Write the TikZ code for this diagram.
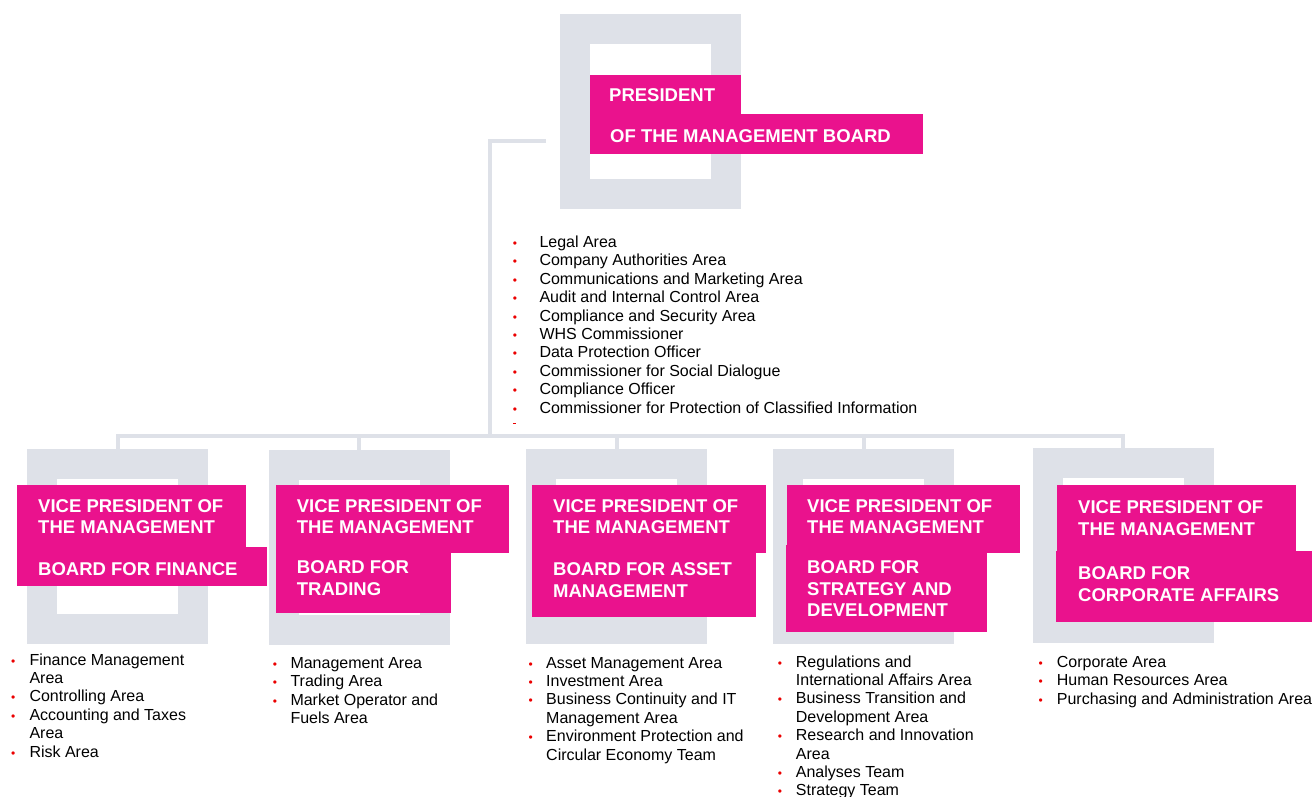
\documentclass[tikz,border=0pt]{standalone}
\usepackage{fontspec}
\setmainfont{Liberation Sans}
\definecolor{framegrey}{RGB}{222,225,232}
\definecolor{boardpink}{RGB}{234,18,141}
\definecolor{bulletred}{RGB}{235,0,0}
\newcommand{\bul}{\leavevmode\textcolor{bulletred}{\fontsize{12}{12}\selectfont •}}

\begin{document}
\begin{tikzpicture}[x=1pt, y=-1pt,
    frame/.style={draw=framegrey, line width=30pt, minimum width=151pt, minimum height=165pt, inner sep=0pt, outer sep=15pt},
    link/.style={draw=framegrey, line width=4pt},
    title/.style={anchor=base west, inner sep=0pt, text=white, font=\bfseries\fontsize{18.5}{21.8}\selectfont},
    list/.style={anchor=base west, inner sep=0pt, font=\fontsize{16}{18.4}\selectfont}]
    \useasboundingbox (0,0) rectangle (1312,796);

    \node (pres) at (650.5,111.5) [frame] {};
    \node (vpfin) at (117.5,546.5) [frame] {};
    \node (vptrd) at (359,547.5) [frame] {};
    \node (vpast) at (616.5,546) [frame] {};
    \node (vpstr) at (863.5,546) [frame] {};
    \node (vpcor) at (1123,545.5) [frame] {};

    \coordinate (stub) at (546,140.5);
    \coordinate (bus) at (490,435.5);
    \draw[link] (stub) -| (bus);
    \draw[link] (vpfin.north) |- (bus) -| (vpcor.north);
    \foreach \n in {vptrd, vpast, vpstr}
    \draw[link] (\n.north) -- (\n.north |- bus);

    \fill[boardpink] (590,75) rectangle (741,114);
    \fill[boardpink] (590,114) rectangle (923,154);
    \fill[boardpink] (17,485) rectangle (246,547);
    \fill[boardpink] (17,547) rectangle (267,586);
    \fill[boardpink] (276,485) rectangle (509,553);
    \fill[boardpink] (276,553) rectangle (451,613);
    \fill[boardpink] (532,485) rectangle (766,553);
    \fill[boardpink] (532,553) rectangle (756,617);
    \fill[boardpink] (787,485) rectangle (1020,553);
    \fill[boardpink] (786,545) rectangle (987,632);
    \fill[boardpink] (1057,485) rectangle (1296,551);
    \fill[boardpink] (1056,551) rectangle (1312,622);

    \node (prestop) at (609,101.7) [title] {PRESIDENT};
    \node (presbot) at (610,142.3) [title] {OF THE MANAGEMENT BOARD};
    \node (fintop) at (38,512) [title] {\begin{tabular}[t]{@{}l@{}}VICE PRESIDENT OF\\THE MANAGEMENT\end{tabular}};
    \node (finbot) at (38,575.7) [title] {BOARD FOR FINANCE};
    \node (trdtop) at (296.7,512) [title] {\begin{tabular}[t]{@{}l@{}}VICE PRESIDENT OF\\THE MANAGEMENT\end{tabular}};
    \node (trdbot) at (296.7,573.3) [title] {\begin{tabular}[t]{@{}l@{}}BOARD FOR\\TRADING\end{tabular}};
    \node (asttop) at (553,512) [title] {\begin{tabular}[t]{@{}l@{}}VICE PRESIDENT OF\\THE MANAGEMENT\end{tabular}};
    \node (astbot) at (553,575.7) [title] {\begin{tabular}[t]{@{}l@{}}BOARD FOR ASSET\\MANAGEMENT\end{tabular}};
    \node (strtop) at (807,512) [title] {\begin{tabular}[t]{@{}l@{}}VICE PRESIDENT OF\\THE MANAGEMENT\end{tabular}};
    \node (strbot) at (807,573.3) [title] {\begin{tabular}[t]{@{}l@{}}BOARD FOR\\STRATEGY AND\\DEVELOPMENT\end{tabular}};
    \node (cortop) at (1078,513.3) [title] {\begin{tabular}[t]{@{}l@{}}VICE PRESIDENT OF\\THE MANAGEMENT\end{tabular}};
    \node (corbot) at (1078,579.3) [title] {\begin{tabular}[t]{@{}l@{}}BOARD FOR\\CORPORATE AFFAIRS\end{tabular}};

    \node (plist) at (512.7,247.5) [list] {\begin{tabular}[t]{@{}p{26.6pt}@{}l@{}}
        \bul & Legal Area\\
        \bul & Company Authorities Area\\
        \bul & Communications and Marketing Area\\
        \bul & Audit and Internal Control Area\\
        \bul & Compliance and Security Area\\
        \bul & WHS Commissioner\\
        \bul & Data Protection Officer\\
        \bul & Commissioner for Social Dialogue\\
        \bul & Compliance Officer\\
        \bul & Commissioner for Protection of Classified Information
    \end{tabular}};
    \fill[bulletred] (513,422.5) rectangle (516,424);

    \node (flist) at (11,665) [list] {\begin{tabular}[t]{@{}p{18.3pt}@{}l@{}}
        \bul & Finance Management\\
             & Area\\
        \bul & Controlling Area\\
        \bul & Accounting and Taxes\\
             & Area\\
        \bul & Risk Area
    \end{tabular}};
    \node (tlist) at (272.7,668.5) [list] {\begin{tabular}[t]{@{}p{17.6pt}@{}l@{}}
        \bul & Management Area\\
        \bul & Trading Area\\
        \bul & Market Operator and\\
             & Fuels Area
    \end{tabular}};
    \node (alist) at (528.3,668) [list] {\begin{tabular}[t]{@{}p{17.7pt}@{}l@{}}
        \bul & Asset Management Area\\
        \bul & Investment Area\\
        \bul & Business Continuity and IT\\
             & Management Area\\
        \bul & Environment Protection and\\
             & Circular Economy Team
    \end{tabular}};
    \node (slist) at (777.7,667) [list] {\begin{tabular}[t]{@{}p{18pt}@{}l@{}}
        \bul & Regulations and\\
             & International Affairs Area\\
        \bul & Business Transition and\\
             & Development Area\\
        \bul & Research and Innovation\\
             & Area\\
        \bul & Analyses Team\\
        \bul & Strategy Team
    \end{tabular}};
    \node (clist) at (1038.3,667.4) [list] {\begin{tabular}[t]{@{}p{18.4pt}@{}l@{}}
        \bul & Corporate Area\\
        \bul & Human Resources Area\\
        \bul & Purchasing and Administration Area
    \end{tabular}};
\end{tikzpicture}
\end{document}
